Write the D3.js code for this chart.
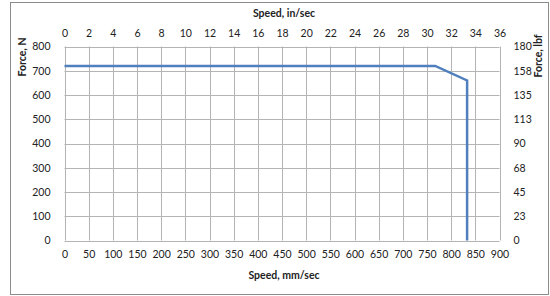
<!DOCTYPE html>
<html><head><meta charset="utf-8">
<script src="https://cdn.jsdelivr.net/npm/d3@7"></script>
<style>
body{margin:0;background:#fff;}
svg text{font-family:Lato,"Liberation Sans",sans-serif;fill:#222;}
</style></head>
<body><svg id="c" width="550" height="296"></svg>
<script>
// Data
const speedMm = [0, 767, 833, 833];      // mm/sec
const forceN  = [720, 720, 660, 0];      // N
const bottomTicks = d3.range(0, 901, 50);
const topTicks = d3.range(0, 37, 2);
const leftTicks = d3.range(0, 801, 100);
const rightTicks = [0, 22.5, 45, 67.5, 90, 112.5, 135, 157.5, 180];

const svg = d3.select("#c");
const L = 64.5, R = 499.5, T = 46.5, B = 240.5;
const x = d3.scaleLinear().domain([0, 900]).range([L, R]);
const xTop = d3.scaleLinear().domain([0, 36]).range([L, R]);
const y = d3.scaleLinear().domain([0, 800]).range([B, T]);
const yR = d3.scaleLinear().domain([0, 180]).range([B, T]);

svg.append("rect").attr("x", 10.5).attr("y", 2.5).attr("width", 538).attr("height", 292)
  .attr("fill", "#fff").attr("stroke", "#8c8c8c");

const grid = "#b4b4b4";
svg.append("g").selectAll("line").data(bottomTicks).join("line")
  .attr("x1", d => Math.round(x(d)) + 0.5).attr("x2", d => Math.round(x(d)) + 0.5)
  .attr("y1", T).attr("y2", B).attr("stroke", grid);
svg.append("g").selectAll("line").data(leftTicks).join("line")
  .attr("y1", d => Math.round(y(d)) + 0.5).attr("y2", d => Math.round(y(d)) + 0.5)
  .attr("x1", L).attr("x2", R).attr("stroke", grid);

const fs = "10.5px";
function axisStyle(g){ g.select(".domain").remove(); g.selectAll(".tick line").remove(); g.selectAll("text").attr("font-size", fs).style("font-family","Lato,'Liberation Sans',sans-serif").attr("fill","#222"); }

svg.append("g").attr("transform", `translate(0,${B + 7})`)
  .call(d3.axisBottom(x).tickValues(bottomTicks).tickSize(0).tickFormat(d3.format("d")))
  .call(axisStyle);
svg.append("g").attr("transform", `translate(0,${T - 7})`)
  .call(d3.axisTop(xTop).tickValues(topTicks).tickSize(0).tickFormat(d3.format("d")))
  .call(axisStyle);
svg.append("g").attr("transform", `translate(${L - 11},0)`)
  .call(d3.axisLeft(y).tickValues(leftTicks).tickSize(0).tickFormat(d3.format("d")))
  .call(axisStyle);
svg.append("g").attr("transform", `translate(${R + 11},0)`)
  .call(d3.axisRight(yR).tickValues(rightTicks).tickSize(0).tickFormat(d => String(Math.round(d))))
  .call(axisStyle);

const line = d3.line().x(d => x(d[0])).y(d => y(d[1]));
svg.append("path").datum(speedMm.map((s, i) => [s, forceN[i]]))
  .attr("d", line).attr("fill", "none").attr("stroke", "#4f7fbd").attr("stroke-width", 2.5)
  .attr("stroke-linejoin", "miter");

svg.append("text").attr("x", (L + R) / 2 + 2).attr("y", 17).attr("text-anchor", "middle")
  .attr("font-size", fs).attr("font-weight", "bold").text("Speed, in/sec");
svg.append("text").attr("x", (L + R) / 2 + 2).attr("y", 279).attr("text-anchor", "middle")
  .attr("font-size", fs).attr("font-weight", "bold").text("Speed, mm/sec");
svg.append("text").attr("transform", "translate(26,57) rotate(-90)").attr("text-anchor", "middle")
  .attr("font-size", fs).attr("font-weight", "bold").text("Force, N");
svg.append("text").attr("transform", "translate(542,56) rotate(-90)").attr("text-anchor", "middle")
  .attr("font-size", fs).attr("font-weight", "bold").text("Force, lbf");
</script></body></html>
